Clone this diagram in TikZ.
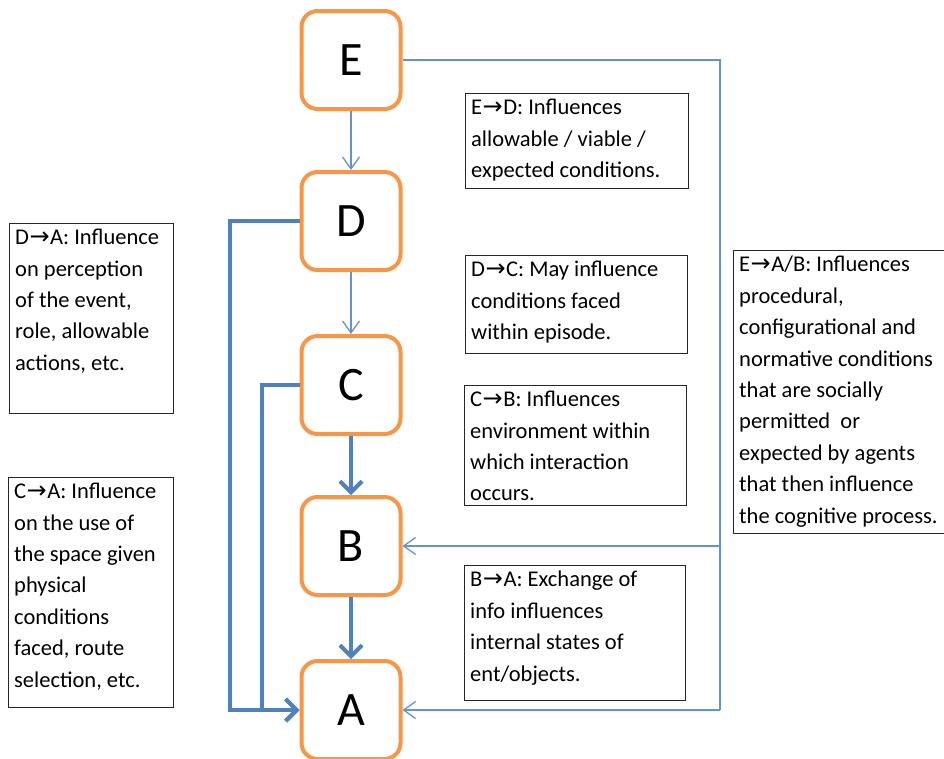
\documentclass[tikz,border=0pt]{standalone}
\usepackage{fontspec}
\setmainfont{Carlito}
\newfontfamily\symfont{DejaVu Sans}
\usetikzlibrary{arrows.meta}
\newcommand{\toarrow}{\kern0.5pt{\symfont\fontsize{24}{24}\selectfont →}\kern0.5pt}
\definecolor{boxorange}{HTML}{F79646}
\definecolor{linkblue}{HTML}{4F81BD}
\definecolor{railblue}{HTML}{6793CC}
\begin{document}
\begin{tikzpicture}[x=1pt,y=-1pt,
  stage/.style={draw=boxorange, line width=4pt, rounded corners=16pt,
    minimum width=99pt, minimum height=98pt, fill=white, inner sep=0pt,
    font=\fontsize{48}{48}\selectfont},
  note/.style={draw=black!85, line width=1.2pt, anchor=north west, inner sep=0pt},
  notetext/.style={anchor=north west, align=left, inner sep=0pt,
    xshift=6pt, yshift=-6pt, font=\fontsize{22.5}{31.4}\selectfont},
  weaklink/.style={draw=railblue, line width=1.3pt,
    -{Straight Barb[length=12pt, width=17pt]}},
  weakline/.style={draw=railblue, line width=1.3pt},
  stronglink/.style={draw=linkblue, line width=4pt,
    -{Straight Barb[length=11pt, width=22pt]}}]

\fill[white] (0,0) rectangle (944,758);
\useasboundingbox (0,0) rectangle (944,758);

% the five stages
\node[stage] (E) at (351,60)  {E};
\node[stage] (D) at (351,221) {D};
\node[stage] (C) at (351,385) {C};
\node[stage] (B) at (351,546) {B};
\node[stage] (A) at (351,710) {A};

% links down the column
\draw[weaklink] (E.south) -- (D.north);
\draw[weaklink] (D.south) -- (C.north);
\draw[stronglink] (C.south) -- (B.north);
\draw[stronglink] (B.south) -- (A.north);

% D -> A and C -> A along the left
\coordinate (dl) at (230,221);
\coordinate (cl) at (262,385);
\draw[stronglink] (D.west) -- (dl) -- (dl|-A.west) -- (A.west);
\draw[stronglink] (C.west) -- (cl) -- (cl|-A.west) -- (A.west);

% E -> A/B along the right
\coordinate (rt) at (720,60);
\coordinate (rb) at (720,710);
\draw[weakline] (E.east) -- (rt) -- (rb);
\draw[weaklink] (rt|-B.east) -- (B.east);
\draw[weaklink] (rb) -- (A.east);

% explanatory notes
\node[note, minimum width=223pt, minimum height=95pt] (ned) at (465,93) {};
\node[notetext] (ted) at (ned.north west)
  {E\toarrow D: Influences\\allowable / viable /\\expected conditions.};

\node[note, minimum width=222pt, minimum height=98pt] (ndc) at (465,255) {};
\node[notetext] (tdc) at (ndc.north west)
  {D\toarrow C: May influence\\conditions faced\\within episode.};

\node[note, minimum width=222pt, minimum height=120pt] (ncb) at (464,385) {};
\node[notetext] (tcb) at (ncb.north west)
  {C\toarrow B: Influences\\environment within\\which interaction\\occurs.};

\node[note, minimum width=221pt, minimum height=135pt] (nba) at (464,565) {};
\node[notetext] (tba) at (nba.north west)
  {B\toarrow A: Exchange of\\info influences\\internal states of\\ent/objects.};

\node[note, minimum width=164pt, minimum height=190pt] (nda) at (9,223) {};
\node[notetext] (tda) at (nda.north west)
  {D\toarrow A: Influence\\on perception\\of the event,\\role, allowable\\actions, etc.};

\node[note, minimum width=165pt, minimum height=230pt] (nca) at (8,477) {};
\node[notetext] (tca) at (nca.north west)
  {C\toarrow A: Influence\\on the use of\\the space given\\physical\\conditions\\faced, route\\selection, etc.};

\node[note, minimum width=214pt, minimum height=283pt] (nab) at (733,250) {};
\node[notetext] (tab) at (nab.north west)
  {E\toarrow A/B: Influences\\procedural,\\configurational and\\normative conditions\\that are socially\\permitted\ \ or\\expected by agents\\that then influence\\the cognitive process.};

\end{tikzpicture}
\end{document}
